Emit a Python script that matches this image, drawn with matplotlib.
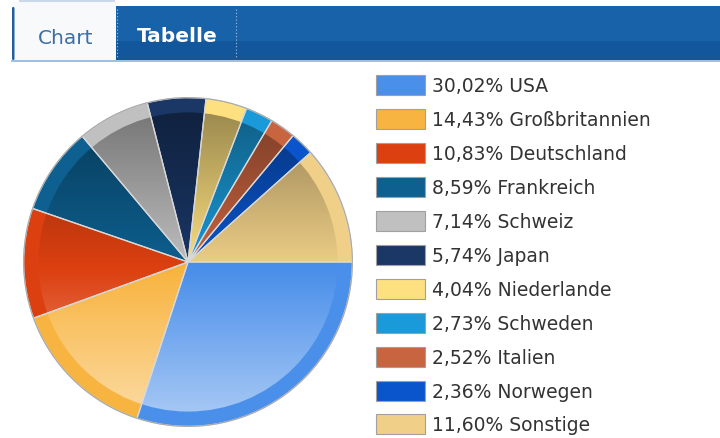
import numpy as np
import matplotlib.pyplot as plt
from matplotlib.patches import Rectangle, Circle, FancyBboxPatch

# DATEN

laender = ["USA", "Großbritannien", "Deutschland", "Frankreich", "Schweiz",
           "Japan", "Niederlande", "Schweden", "Italien", "Norwegen", "Sonstige"]

anteile = [30.02, 14.43, 10.83, 8.59, 7.14, 5.74, 4.04, 2.73, 2.52, 2.36, 11.60]

farben = ["#4a8fea", "#f8b440", "#dc4010", "#0d6090", "#c0c0c0", "#1a3766",
          "#fde080", "#1a9ad8", "#c86440", "#0a55cc", "#f0d088"]

tabs = ["Chart", "Tabelle"]

# FIGUR

fig = plt.figure(figsize=(7.2, 4.39), dpi=100)
fig.patch.set_facecolor("white")

# Hintergrund-Achse in Pixelkoordinaten
bg = fig.add_axes([0, 0, 1, 1])
bg.set_xlim(0, 720)
bg.set_ylim(439, 0)
bg.axis("off")

# KOPFLEISTE

bg.add_patch(Rectangle((12, 7), 708, 36, facecolor="#1762a8", edgecolor="none"))
bg.add_patch(Rectangle((12, 42), 708, 19, facecolor="#12569c", edgecolor="none"))
bg.plot([12, 720], [61.5, 61.5], color="#8db4dc", linewidth=1.2)

# aktiver Tab
bg.add_patch(Rectangle((12, 3), 104, 58, facecolor="#f8f9fb", edgecolor="none"))
bg.plot([20, 114], [1.5, 1.5], color="#c9d9ea", linewidth=1.5)
bg.add_patch(FancyBboxPatch((12, 8), 2.5, 53, boxstyle="round,pad=0,rounding_size=1.2",
                            facecolor="#225f9c", edgecolor="none"))

# gepunktete Trenner
for xs in [117, 236]:
    bg.plot([xs, xs], [10, 60], color="#a9c4e2", linewidth=0.8, linestyle=(0, (1, 2)))

bg.text(66, 38, tabs[0], color="#3b6fa6", fontsize=14.5, ha="center", va="center",
        family="DejaVu Sans")
bg.text(177, 37, tabs[1], color="white", fontsize=14.5, fontweight="bold",
        ha="center", va="center", family="DejaVu Sans")

# KUCHENDIAGRAMM

cx, cy, r = 188, 263, 166
ax = fig.add_axes([(cx - r) / 720, (439 - cy - r) / 439, 2 * r / 720, 2 * r / 439])
ax.set_xlim(-1, 1)
ax.set_ylim(-1, 1)
ax.set_aspect("equal")
ax.axis("off")

# aeusserer Ring in Grundfarbe
ax.pie(anteile, colors=farben, startangle=0, counterclock=False, radius=1,
       wedgeprops=dict(edgecolor="none"))

# innere Flaeche
r_innen = 0.91
ax.pie(anteile, colors=farben, startangle=0, counterclock=False, radius=r_innen,
       wedgeprops=dict(edgecolor="none"))

# vertikaler Verlauf: oben dunkler, unten heller
yy = np.linspace(1, -1, 300)
verlauf = np.zeros((300, 2, 4))
dunkel = np.clip((yy + 0.05) / 0.95, 0, 1) * 0.38
hell = np.clip(-(yy + 0.05) / 0.95, 0, 1) * 0.55
verlauf[:, :, 0:3] = np.where(hell[:, None, None] > 0, 1.0, 0.0)
verlauf[:, :, 3] = (dunkel + hell)[:, None]
img = ax.imshow(verlauf, extent=(-1, 1, -1, 1), aspect="auto", zorder=3,
                interpolation="bilinear")
img.set_clip_path(Circle((0, 0), r_innen, transform=ax.transData))

# Kanten der Segmente
ax.pie(anteile, colors=["none"] * len(anteile), startangle=0, counterclock=False,
       radius=1, wedgeprops=dict(edgecolor="#d8d8d8", linewidth=0.9, zorder=4))
ax.add_patch(Circle((0, 0), 1, facecolor="none", edgecolor="#a8a8a8",
                    linewidth=0.8, zorder=5))
ax.set_xlim(-1.01, 1.01)
ax.set_ylim(-1.01, 1.01)

# LEGENDE

for i, (land, wert, farbe) in enumerate(zip(laender, anteile, farben)):
    y0 = 76 + i * 33.95
    bg.add_patch(Rectangle((375.5, y0), 49, 20, facecolor=farbe,
                           edgecolor="#a0a0a0", linewidth=0.8))
    etikett = f"{wert:.2f}".replace(".", ",") + "% " + land
    bg.text(432, y0 + 10.5, etikett, color="#333333", fontsize=13.5,
            ha="left", va="center", family="DejaVu Sans")

fig.savefig("out.png", dpi=100)
